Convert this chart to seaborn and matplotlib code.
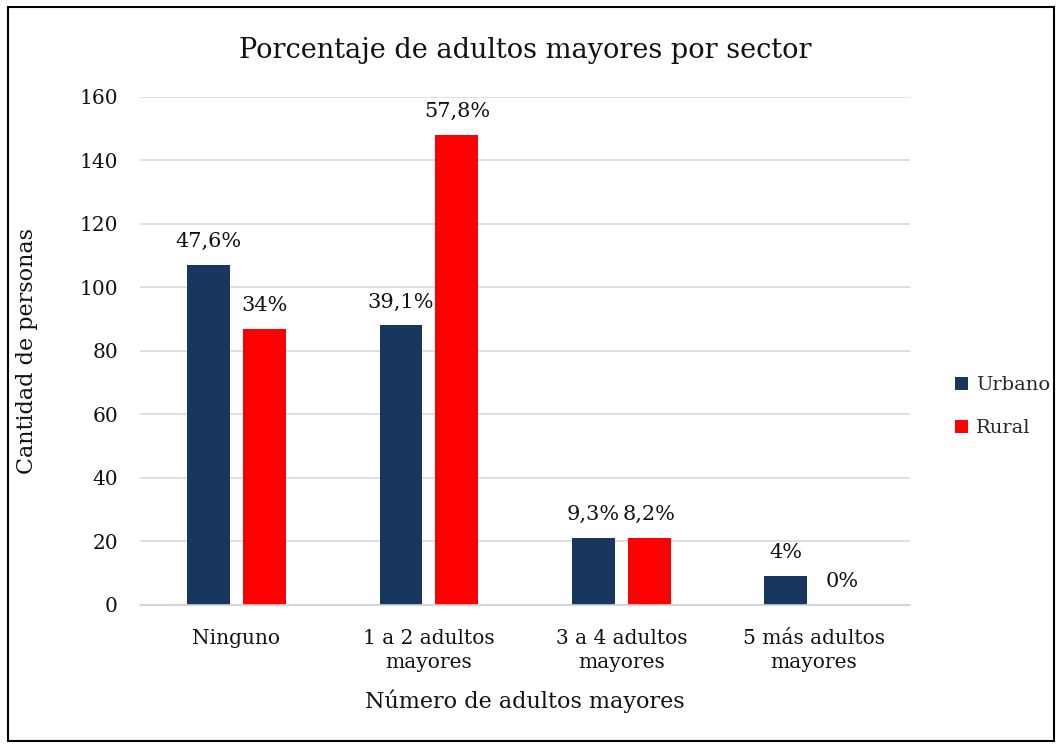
import numpy as np
import pandas as pd
import seaborn as sns
import matplotlib.pyplot as plt
from matplotlib.patches import Rectangle

categorias = ['Ninguno', '1 a 2 adultos\nmayores', '3 a 4 adultos\nmayores', '5 más adultos\nmayores']
urbano = [107, 88, 21, 9]
rural = [87, 148, 21, 0]
etiquetas_urbano = ['47,6%', '39,1%', '9,3%', '4%']
etiquetas_rural = ['34%', '57,8%', '8,2%', '0%']

df = pd.DataFrame({
    'categoria': categorias * 2,
    'valor': urbano + rural,
    'sector': ['Urbano'] * 4 + ['Rural'] * 4,
})

sns.set_theme(style='white')
plt.rcParams['font.family'] = ['DejaVu Serif']

fig = plt.figure(figsize=(10.62, 7.45), dpi=100)
ax = fig.add_axes([0.132, 0.188, 0.725, 0.682])

sns.barplot(data=df, x='categoria', y='valor', hue='sector',
            palette={'Urbano': '#17375E', 'Rural': '#FF0000'}, saturation=1,
            width=0.58, gap=0.23, linewidth=0, ax=ax, legend=True)

for cont, labs in zip(ax.containers, [etiquetas_urbano, etiquetas_rural]):
    ax.bar_label(cont, labels=labs, padding=10, fontsize=15, color='#111111')

ax.set_ylim(0, 160)
ax.set_yticks(range(0, 161, 20))
ax.yaxis.grid(True, color='#D9D9D9', linewidth=1.2)
ax.set_axisbelow(True)
for s in ['top', 'right', 'left']:
    ax.spines[s].set_visible(False)
ax.spines['bottom'].set_color('#D0D0D0')
ax.spines['bottom'].set_linewidth(1.2)
ax.tick_params(axis='both', length=0, labelsize=14.5, colors='#111111')
ax.tick_params(axis='y', pad=16)
ax.tick_params(axis='x', pad=17)
for t in ax.get_xticklabels():
    t.set_linespacing(1.35)

ax.set_xlabel('Número de adultos mayores', fontsize=16, labelpad=13, color='#111111')
ax.set_ylabel('Cantidad de personas', fontsize=16, labelpad=30, color='#111111')
ax.set_title('Porcentaje de adultos mayores por sector', fontsize=19.5, pad=28, color='#111111')

ax.legend(loc='center left', bbox_to_anchor=(1.035, 0.39), frameon=False,
          fontsize=14, handlelength=0.7, handleheight=0.7, handletextpad=0.4,
          labelspacing=1.3)

fig.patches.append(Rectangle((0.008, 0.006), 0.984, 0.984, transform=fig.transFigure,
                             fill=False, edgecolor='black', linewidth=1.5))

fig.savefig('out.png', dpi=100)
